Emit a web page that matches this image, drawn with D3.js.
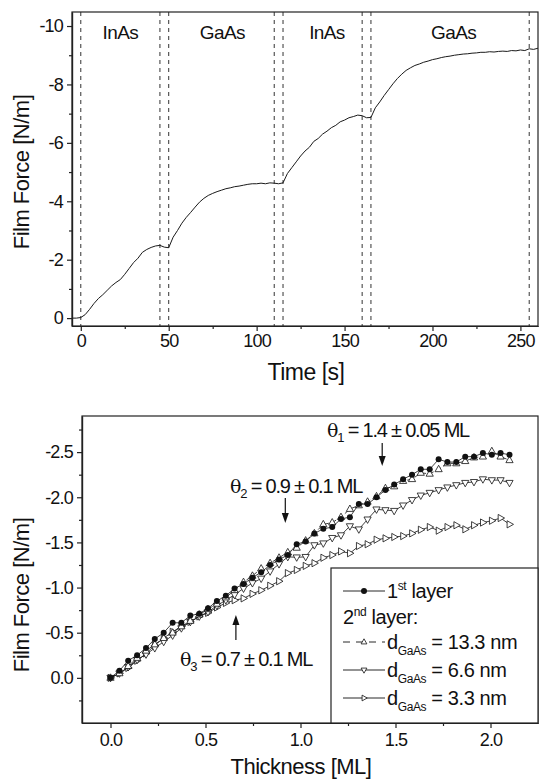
<!DOCTYPE html>
<html>
<head>
<meta charset="utf-8">
<script src="https://cdn.jsdelivr.net/npm/d3@7/dist/d3.min.js"></script>
<style>
  body { margin: 0; background: #fff; }
  svg text { font-family: "Liberation Sans", Arial, sans-serif; fill: #111; }
  .axis text { font-size: 18px; letter-spacing: -0.8px; }
  .axis path, .axis line { stroke: #222; stroke-width: 1.2; }
</style>
</head>
<body>
<svg id="fig" width="539" height="782"></svg>
<script>
// ---------- data: top panel (film force vs time) ----------
var timeS = [-5, -2.5, 0, 2.5, 5, 7.5, 10, 12.5, 15, 17.5,
  20, 22.5, 25, 27.5, 30, 32.5, 35, 37.5, 40, 42.5,
  45, 47.5, 50, 52.5, 55, 57.5, 60, 62.5, 65, 67.5,
  70, 72.5, 75, 77.5, 80, 82.5, 85, 87.5, 90, 92.5,
  95, 97.5, 100, 102.5, 105, 107.5, 110, 112.5, 115, 117.5,
  120, 122.5, 125, 127.5, 130, 132.5, 135, 137.5, 140, 142.5,
  145, 147.5, 150, 152.5, 155, 157.5, 160, 162.5, 165, 167.5,
  170, 172.5, 175, 177.5, 180, 182.5, 185, 187.5, 190, 192.5,
  195, 197.5, 200, 202.5, 205, 207.5, 210, 212.5, 215, 217.5,
  220, 222.5, 225, 227.5, 230, 232.5, 235, 237.5, 240, 242.5,
  245, 247.5, 250, 252.5, 255, 257.5, 260];
var forceT = [0, 0, -0.02, -0.12, -0.3, -0.5, -0.67, -0.8, -0.95, -1.1,
  -1.22, -1.32, -1.5, -1.7, -1.9, -2.05, -2.25, -2.35, -2.42, -2.47,
  -2.49, -2.43, -2.41, -2.77, -3.0, -3.25, -3.45, -3.62, -3.8, -3.97,
  -4.1, -4.2, -4.27, -4.33, -4.38, -4.43, -4.46, -4.5, -4.52, -4.55,
  -4.58, -4.6, -4.6, -4.62, -4.6, -4.63, -4.62, -4.6, -4.63, -4.95,
  -5.15, -5.35, -5.55, -5.72, -5.85, -6.05, -6.15, -6.3, -6.4, -6.52,
  -6.6, -6.72, -6.78, -6.86, -6.9, -6.95, -6.93, -6.86, -6.87, -7.2,
  -7.4, -7.62, -7.82, -8.02, -8.2, -8.35, -8.48, -8.57, -8.65, -8.7,
  -8.76, -8.8, -8.85, -8.88, -8.92, -8.95, -8.97, -9.0, -9.02, -9.04,
  -9.05, -9.07, -9.08, -9.1, -9.1, -9.12, -9.11, -9.13, -9.14, -9.13,
  -9.16, -9.15, -9.18, -9.16, -9.22, -9.2, -9.24];
var shutterT = [0, 45, 50, 110, 115, 160, 165, 255];
var phaseLabels = ["InAs", "GaAs", "InAs", "GaAs"];
var phaseAt = [22.5, 80.5, 140, 212];
var topXTicks = [0, 50, 100, 150, 200, 250];
var topXMinor = [25, 75, 125, 175, 225];
var topYTicks = [0, -2, -4, -6, -8, -10];
var topYMinor = [-1, -3, -5, -7, -9];

// ---------- data: bottom panel (film force vs thickness) ----------
var thickness = [0, 0.047, 0.093, 0.14, 0.187, 0.233, 0.28, 0.327, 0.373, 0.42,
  0.467, 0.513, 0.56, 0.607, 0.653, 0.7, 0.747, 0.793, 0.84, 0.887,
  0.933, 0.98, 1.027, 1.073, 1.12, 1.167, 1.213, 1.26, 1.307, 1.353,
  1.4, 1.447, 1.493, 1.54, 1.587, 1.633, 1.68, 1.727, 1.773, 1.82,
  1.867, 1.913, 1.96, 2.007, 2.053, 2.1];
var layer1 = [0, -0.08, -0.19, -0.25, -0.33, -0.43, -0.5, -0.61, -0.61, -0.69,
  -0.71, -0.77, -0.85, -0.91, -0.99, -1.04, -1.11, -1.17, -1.25, -1.31,
  -1.36, -1.48, -1.51, -1.6, -1.65, -1.67, -1.76, -1.78, -1.925, -1.925,
  -2.0, -2.08, -2.14, -2.2, -2.25, -2.31, -2.31, -2.42, -2.39, -2.39,
  -2.45, -2.45, -2.49, -2.47, -2.49, -2.47];
var gaas133 = [0, -0.05, -0.13, -0.22, -0.3, -0.37, -0.44, -0.5, -0.57, -0.63,
  -0.7, -0.76, -0.82, -0.89, -0.97, -1.06, -1.13, -1.21, -1.27, -1.33,
  -1.39, -1.44, -1.52, -1.6, -1.7, -1.72, -1.78, -1.87, -1.91, -1.95,
  -2.01, -2.1, -2.12, -2.18, -2.2, -2.27, -2.26, -2.31, -2.375, -2.375,
  -2.4, -2.44, -2.45, -2.51, -2.45, -2.41];
var gaas66 = [0, -0.05, -0.12, -0.2, -0.26, -0.33, -0.4, -0.47, -0.55, -0.62,
  -0.68, -0.73, -0.8, -0.86, -0.92, -0.99, -1.05, -1.1, -1.18, -1.26,
  -1.34, -1.335, -1.34, -1.47, -1.49, -1.55, -1.58, -1.68, -1.645, -1.755,
  -1.866, -1.858, -1.85, -1.91, -1.97, -2.02, -2.05, -2.08, -2.11, -2.135,
  -2.16, -2.17, -2.2, -2.19, -2.19, -2.16];
var gaas33 = [0, -0.05, -0.11, -0.19, -0.27, -0.36, -0.44, -0.51, -0.57, -0.62,
  -0.68, -0.72, -0.78, -0.83, -0.86, -0.88, -0.93, -0.97, -1.02, -1.07,
  -1.16, -1.195, -1.24, -1.27, -1.33, -1.36, -1.4, -1.38, -1.46, -1.48,
  -1.53, -1.545, -1.56, -1.57, -1.6, -1.64, -1.67, -1.63, -1.67, -1.69,
  -1.645, -1.69, -1.72, -1.74, -1.77, -1.7];
var botXTicks = [0, 0.5, 1.0, 1.5, 2.0];
var botXMinor = [0.25, 0.75, 1.25, 1.75];
var botYTicks = [0, -0.5, -1.0, -1.5, -2.0, -2.5];
var botYMinor = [0.25, -0.25, -0.75, -1.25, -1.75, -2.25, -2.75];

var svg = d3.select("#fig");

// marker shapes
function triPath(dir, s) {
  if (dir == "up") return "M0," + (-s) + "L" + (s * 0.9) + "," + (s * 0.6) + "L" + (-s * 0.9) + "," + (s * 0.6) + "Z";
  if (dir == "down") return "M0," + s + "L" + (s * 0.9) + "," + (-s * 0.6) + "L" + (-s * 0.9) + "," + (-s * 0.6) + "Z";
  return "M" + s + ",0L" + (-s * 0.6) + "," + (s * 0.9) + "L" + (-s * 0.6) + "," + (-s * 0.9) + "Z";
}

function drawAxes(x, y, xt, xm, yt, ym, fmt, xPad) {
  svg.append("g").attr("class", "axis")
    .attr("transform", "translate(0," + y.range()[0] + ")")
    .call(d3.axisBottom(x).tickValues(xt).tickSize(5).tickSizeOuter(0).tickPadding(xPad).tickFormat(fmt.x));
  svg.append("g").attr("class", "axis")
    .attr("transform", "translate(0," + y.range()[0] + ")")
    .call(d3.axisBottom(x).tickValues(xm).tickSize(3).tickSizeOuter(0).tickFormat(""));
  svg.append("g").attr("class", "axis")
    .attr("transform", "translate(" + x.range()[0] + ",0)")
    .call(d3.axisLeft(y).tickValues(yt).tickSize(5).tickSizeOuter(0).tickPadding(4).tickFormat(fmt.y));
  svg.append("g").attr("class", "axis")
    .attr("transform", "translate(" + x.range()[0] + ",0)")
    .call(d3.axisLeft(y).tickValues(ym).tickSize(3).tickSizeOuter(0).tickFormat(""));
  // box frame
  svg.append("rect")
    .attr("x", x.range()[0]).attr("y", y.range()[1])
    .attr("width", x.range()[1] - x.range()[0])
    .attr("height", y.range()[0] - y.range()[1])
    .attr("fill", "none").attr("stroke", "#222").attr("stroke-width", 1.2);
}

// ================= top panel =================
var xT = d3.scaleLinear().domain([-5, 260]).range([72, 538]);
var yT = d3.scaleLinear().domain([0.27, -10.48]).range([326, 12]);

svg.selectAll(".shutter").data(shutterT).enter().append("line")
  .attr("x1", d => xT(d)).attr("x2", d => xT(d))
  .attr("y1", yT.range()[1]).attr("y2", yT.range()[0])
  .attr("stroke", "#333").attr("stroke-width", 1).attr("stroke-dasharray", "4,4");

svg.append("path")
  .datum(d3.zip(timeS, forceT))
  .attr("fill", "none").attr("stroke", "#1a1a1a").attr("stroke-width", 1)
  .attr("d", d3.line().x(d => xT(d[0])).y(d => yT(d[1])));

drawAxes(xT, yT, topXTicks, topXMinor, topYTicks, topYMinor,
  { x: d => String(d), y: d => String(d) }, 3);

svg.selectAll(".phase").data(phaseLabels).enter().append("text")
  .attr("x", (d, i) => xT(phaseAt[i])).attr("y", 39)
  .attr("text-anchor", "middle")
  .style("font-size", "19px").style("letter-spacing", "-0.6px")
  .text(d => d);

svg.append("text")
  .attr("transform", "translate(29,172) rotate(-90)")
  .attr("text-anchor", "middle")
  .style("font-size", "22px").style("letter-spacing", "-0.5px")
  .text("Film Force [N/m]");
svg.append("text")
  .attr("x", 306).attr("y", 380).attr("text-anchor", "middle")
  .style("font-size", "23px").style("letter-spacing", "-0.5px")
  .text("Time [s]");

// ================= bottom panel =================
var xB = d3.scaleLinear().domain([-0.15, 2.25]).range([82, 538]);
var yB = d3.scaleLinear().domain([0.5, -2.9]).range([723, 416]);

drawAxes(xB, yB, botXTicks, botXMinor, botYTicks, botYMinor,
  { x: d => d.toFixed(1), y: d => d.toFixed(1) }, 5);

var series = [
  { vals: gaas33, mark: "right", dash: null },
  { vals: gaas66, mark: "down", dash: null },
  { vals: gaas133, mark: "up", dash: "5,3" },
  { vals: layer1, mark: "circle", dash: null }
];

var lineB = d3.line().x(d => xB(d[0])).y(d => yB(d[1]));

series.forEach(function(s) {
  var pts = d3.zip(thickness, s.vals);
  svg.append("path").datum(pts)
    .attr("fill", "none").attr("stroke", "#111").attr("stroke-width", 0.8)
    .attr("stroke-dasharray", s.dash)
    .attr("d", lineB);
  var g = svg.append("g");
  if (s.mark == "circle") {
    g.selectAll("circle").data(pts).enter().append("circle")
      .attr("cx", d => xB(d[0])).attr("cy", d => yB(d[1])).attr("r", 3)
      .attr("fill", "#111");
  } else {
    g.selectAll("path").data(pts).enter().append("path")
      .attr("transform", d => "translate(" + xB(d[0]) + "," + yB(d[1]) + ")")
      .attr("d", triPath(s.mark, 4))
      .attr("fill", "#fff").attr("stroke", "#111").attr("stroke-width", 0.8);
  }
});

// annotations
var notes = [
  { sub: "1", txt: " = 1.4 \u00b1 0.05 ML", x: 327, y: 437, ax: 1.43, y1: 443, y2: 466 },
  { sub: "2", txt: " = 0.9 \u00b1 0.1 ML", x: 230, y: 493, ax: 0.92, y1: 498, y2: 523 },
  { sub: "3", txt: " = 0.7 \u00b1 0.1 ML", x: 180, y: 666, ax: 0.66, y1: 640, y2: 615 }
];
notes.forEach(function(n) {
  var t = svg.append("text").attr("x", n.x).attr("y", n.y)
    .style("font-size", "20px").style("letter-spacing", "-1.2px");
  t.append("tspan").style("font-family", "'DejaVu Serif', serif").style("font-size", "19px").text("\u03b8");
  t.append("tspan").attr("dy", 5).style("font-size", "13px").text(n.sub);
  t.append("tspan").attr("dy", -5).text(n.txt);
  var ax = xB(n.ax);
  var dir = n.y2 > n.y1 ? 1 : -1;
  svg.append("line").attr("x1", ax).attr("x2", ax).attr("y1", n.y1).attr("y2", n.y2 - dir * 8)
    .attr("stroke", "#111").attr("stroke-width", 1.2);
  svg.append("path")
    .attr("d", "M" + (ax - 3.5) + "," + (n.y2 - dir * 10) + "L" + (ax + 3.5) + "," + (n.y2 - dir * 10) + "L" + ax + "," + n.y2 + "Z")
    .attr("fill", "#111");
});

svg.append("text")
  .attr("transform", "translate(29,595) rotate(-90)")
  .attr("text-anchor", "middle")
  .style("font-size", "22px").style("letter-spacing", "-0.5px")
  .text("Film Force [N/m]");
svg.append("text")
  .attr("x", 301).attr("y", 774).attr("text-anchor", "middle")
  .style("font-size", "22px").style("letter-spacing", "-0.5px")
  .text("Thickness [ML]");

// legend
var leg = svg.append("g");
leg.append("rect").attr("x", 331).attr("y", 568).attr("width", 207).attr("height", 155)
  .attr("fill", "#fff").attr("stroke", "#222").attr("stroke-width", 1.2);

var legRows = [
  { y: 591, mark: "circle", dash: null, main: "1", sup: "st", rest: " layer" },
  { y: 642, mark: "up", dash: "7,6", rest: " = 13.3 nm" },
  { y: 670, mark: "down", dash: null, rest: " = 6.6 nm" },
  { y: 698, mark: "right", dash: null, rest: " = 3.3 nm" }
];
legRows.forEach(function(r) {
  leg.append("line").attr("x1", 343).attr("x2", 385).attr("y1", r.y).attr("y2", r.y)
    .attr("stroke", "#111").attr("stroke-width", 0.9).attr("stroke-dasharray", r.dash);
  if (r.mark == "circle") {
    leg.append("circle").attr("cx", 364).attr("cy", r.y).attr("r", 3).attr("fill", "#111");
  } else {
    leg.append("path").attr("transform", "translate(364," + r.y + ")")
      .attr("d", triPath(r.mark, 3.2))
      .attr("fill", "#fff").attr("stroke", "#111").attr("stroke-width", 0.8);
  }
  var t = leg.append("text").attr("x", 387).attr("y", r.y + 7)
    .style("font-size", "20px").style("letter-spacing", "-0.4px");
  if (r.sup) {
    t.append("tspan").text(r.main);
    t.append("tspan").attr("dy", -8).style("font-size", "12px").text(r.sup);
    t.append("tspan").attr("dy", 8).text(r.rest);
  } else {
    t.append("tspan").text("d");
    t.append("tspan").attr("dy", 6).style("font-size", "12px").text("GaAs");
    t.append("tspan").attr("dy", -6).text(r.rest);
  }
});
var t2 = leg.append("text").attr("x", 343).attr("y", 624)
  .style("font-size", "20px").style("letter-spacing", "-0.4px");
t2.append("tspan").text("2");
t2.append("tspan").attr("dy", -8).style("font-size", "12px").text("nd");
t2.append("tspan").attr("dy", 8).text(" layer:");
</script>
</body>
</html>
